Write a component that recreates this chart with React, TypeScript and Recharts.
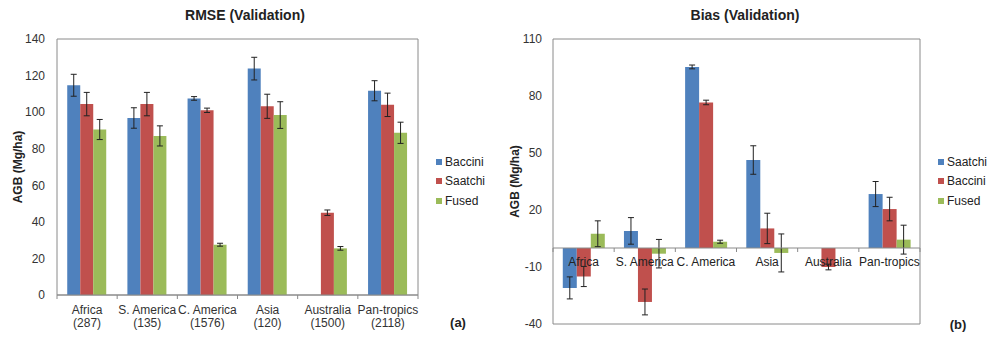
import React from 'react';
import {
  BarChart, Bar, XAxis, YAxis, ErrorBar, Legend, ReferenceArea, ReferenceLine,
} from 'recharts';

// categories
const regions = ['Africa', 'S. America', 'C. America', 'Asia', 'Australia', 'Pan-tropics'];
const sampleSizes = ['(287)', '(135)', '(1576)', '(120)', '(1500)', '(2118)'];

// RMSE (Validation)
const rmseBaccini = [114.7, 96.8, 107.5, 123.8, null, 111.7];
const rmseBacciniErr = [6, 5.6, 1, 6.2, null, 5.5];
const rmseSaatchi = [104.4, 104.4, 101, 103.2, 45, 104];
const rmseSaatchiErr = [6.4, 6.4, 1.2, 6.6, 1.5, 6.4];
const rmseFused = [90.5, 87, 27.5, 98.4, 25.5, 88.7];
const rmseFusedErr = [5.5, 5.5, 0.8, 7.3, 1, 5.8];
const rmseTicks = [0, 20, 40, 60, 80, 100, 120, 140];

// Bias (Validation)
const biasSaatchi = [-21, 9, 95.3, 46.3, null, 28.4];
const biasSaatchiErr = [5.8, 7, 1, 7.5, null, 6.6];
const biasBaccini = [-15, -28.4, 76.6, 10.3, -10, 20.5];
const biasBacciniErr = [5.3, 6.8, 1.2, 8, 1.5, 6.2];
const biasFused = [7.5, -3, 3.3, -2.6, 0, 4.4];
const biasFusedErr = [6.8, 7.5, 0.8, 10, 1, 7.6];
const biasTicks = [-40, -10, 20, 50, 80, 110];

const rmseOrder = ['Baccini', 'Saatchi', 'Fused'];
const biasOrder = ['Saatchi', 'Baccini', 'Fused'];

const BLUE = '#4F81BD';
const RED = '#C0504D';
const GREEN = '#9BBB59';
const FRAME = '#8a8a8a';
const TEXT = '#333';
const FONT = '"Liberation Sans", Arial, sans-serif';

const rmseData = regions.map((r, i) => ({
  region: r,
  baccini: rmseBaccini[i], bacciniErr: rmseBacciniErr[i],
  saatchi: rmseSaatchi[i], saatchiErr: rmseSaatchiErr[i],
  fused: rmseFused[i], fusedErr: rmseFusedErr[i],
}));

const biasData = regions.map((r, i) => ({
  region: r,
  saatchi: biasSaatchi[i], saatchiErr: biasSaatchiErr[i],
  baccini: biasBaccini[i], bacciniErr: biasBacciniErr[i],
  fused: biasFused[i], fusedErr: biasFusedErr[i],
}));

// left chart geometry
const L_W = 500, L_H = 337, L_AXIS_W = 57;
const L_MARGIN = { top: 39, right: 82, bottom: 12, left: 0 };
const L_PLOT_W = L_W - L_AXIS_W - L_MARGIN.right;

// right chart geometry
const R_W = 487, R_H = 337, R_AXIS_W = 53;
const R_X_AXIS_H = 1;
const R_MARGIN = { top: 39, right: 67, bottom: 12, left: 0 };
const R_PLOT_W = R_W - R_AXIS_W - R_MARGIN.right;
const R_PLOT_H = R_H - R_MARGIN.top - R_MARGIN.bottom - R_X_AXIS_H;
const B_MIN = biasTicks[0], B_MAX = biasTicks[biasTicks.length - 1];

const RmseTick = (props: any) => {
  const { x, y, payload, index } = props;
  const band = L_PLOT_W / regions.length;
  return (
    <g>
      <line x1={x - band / 2} x2={x - band / 2} y1={y} y2={y + 4} stroke={FRAME} />
      {index === regions.length - 1 && (
        <line x1={x + band / 2} x2={x + band / 2} y1={y} y2={y + 4} stroke={FRAME} />
      )}
      <text x={x} y={y + 19} textAnchor="middle" fontSize={12} fill={TEXT} fontFamily={FONT}>
        {payload.value}
      </text>
      <text x={x} y={y + 32} textAnchor="middle" fontSize={12} fill={TEXT} fontFamily={FONT}>
        {sampleSizes[index]}
      </text>
    </g>
  );
};

const BiasTick = (props: any) => {
  const { x, y, payload, index } = props;
  const band = R_PLOT_W / regions.length;
  const zeroY = y - (R_PLOT_H * (0 - B_MIN)) / (B_MAX - B_MIN);
  return (
    <g>
      <line x1={x - band / 2} x2={x - band / 2} y1={zeroY} y2={zeroY + 4} stroke={FRAME} />
      {index === regions.length - 1 && (
        <line x1={x + band / 2} x2={x + band / 2} y1={zeroY} y2={zeroY + 4} stroke={FRAME} />
      )}
      <text x={x} y={zeroY + 18} textAnchor="middle" fontSize={12} fill="#222" fontFamily={FONT}>
        {payload.value}
      </text>
    </g>
  );
};

const makeLegend = (order: string[]) => (props: any) => {
  const items = [...(props.payload || [])].sort(
    (a: any, b: any) => order.indexOf(a.value) - order.indexOf(b.value),
  );
  return (
    <div style={{ fontFamily: FONT, fontSize: 12, color: '#222' }}>
      {items.map((p: any) => (
        <div key={p.value} style={{ display: 'flex', alignItems: 'center', height: 19.5 }}>
          <span style={{ width: 6, height: 6, background: p.color, marginRight: 3, display: 'inline-block' }} />
          <span>{p.value}</span>
        </div>
      ))}
    </div>
  );
};

const errProps = { width: 3, stroke: '#222', strokeWidth: 1 };

const App: React.FC = () => {
  return (
    <div style={{ position: 'absolute', left: 0, top: 0, width: 987, height: 337, background: '#fff', fontFamily: FONT }}>
      <div style={{ position: 'absolute', left: 145, top: 7, width: 200, textAlign: 'center', fontWeight: 'bold', fontSize: 14, color: '#222' }}>
        RMSE (Validation)
      </div>
      <div style={{ position: 'absolute', left: 645, top: 7, width: 200, textAlign: 'center', fontWeight: 'bold', fontSize: 14, color: '#222' }}>
        Bias (Validation)
      </div>
      <div style={{ position: 'absolute', left: 438, top: 315, width: 40, textAlign: 'center', fontWeight: 'bold', fontSize: 13, color: '#222' }}>
        (a)
      </div>
      <div style={{ position: 'absolute', left: 938, top: 317, width: 40, textAlign: 'center', fontWeight: 'bold', fontSize: 13, color: '#222' }}>
        (b)
      </div>

      <div style={{ position: 'absolute', left: 0, top: 0 }}>
        <BarChart width={L_W} height={L_H} data={rmseData} margin={L_MARGIN} barCategoryGap="17%" barGap={0}>
          <ReferenceArea y1={0} y2={140} fill="none" stroke={FRAME} strokeWidth={1} />
          <XAxis dataKey="region" height={30} tickSize={0} tickMargin={0} axisLine={{ stroke: FRAME }} tick={<RmseTick />} interval={0} />
          <YAxis
            width={L_AXIS_W} domain={[0, 140]} ticks={rmseTicks} axisLine={false} tickLine={false}
            tickSize={0} tickMargin={12} tick={{ fontSize: 12, fill: TEXT, fontFamily: FONT }}
            label={{ value: 'AGB (Mg/ha)', angle: -90, position: 'insideLeft', offset: 18, style: { textAnchor: 'middle', fontWeight: 'bold', fontSize: 12, fill: '#222', fontFamily: FONT } }}
          />
          <Legend
            layout="horizontal" align="center" verticalAlign="middle" content={makeLegend(rmseOrder)}
            wrapperStyle={{ left: 436, top: 152, width: 70 }}
          />
          <Bar dataKey="baccini" name="Baccini" fill={BLUE} isAnimationActive={false}>
            <ErrorBar dataKey="bacciniErr" {...errProps} />
          </Bar>
          <Bar dataKey="saatchi" name="Saatchi" fill={RED} isAnimationActive={false}>
            <ErrorBar dataKey="saatchiErr" {...errProps} />
          </Bar>
          <Bar dataKey="fused" name="Fused" fill={GREEN} isAnimationActive={false}>
            <ErrorBar dataKey="fusedErr" {...errProps} />
          </Bar>
        </BarChart>
      </div>

      <div style={{ position: 'absolute', left: 500, top: 0 }}>
        <BarChart width={R_W} height={R_H} data={biasData} margin={R_MARGIN} barCategoryGap="16%" barGap={0}>
          <ReferenceArea y1={B_MIN} y2={B_MAX} fill="none" stroke={FRAME} strokeWidth={1} />
          <YAxis
            width={R_AXIS_W} domain={[B_MIN, B_MAX]} ticks={biasTicks} axisLine={false} tickLine={false}
            tickSize={0} tickMargin={11} tick={{ fontSize: 12, fill: TEXT, fontFamily: FONT }}
            label={{ value: 'AGB (Mg/ha)', angle: -90, position: 'insideLeft', offset: 15, style: { textAnchor: 'middle', fontWeight: 'bold', fontSize: 12, fill: '#222', fontFamily: FONT } }}
          />
          <Legend
            layout="horizontal" align="center" verticalAlign="middle" content={makeLegend(biasOrder)}
            wrapperStyle={{ left: 438, top: 152, width: 60 }}
          />
          <Bar dataKey="saatchi" name="Saatchi" fill={BLUE} isAnimationActive={false}>
            <ErrorBar dataKey="saatchiErr" {...errProps} />
          </Bar>
          <Bar dataKey="baccini" name="Baccini" fill={RED} isAnimationActive={false}>
            <ErrorBar dataKey="bacciniErr" {...errProps} />
          </Bar>
          <Bar dataKey="fused" name="Fused" fill={GREEN} isAnimationActive={false}>
            <ErrorBar dataKey="fusedErr" {...errProps} />
          </Bar>
          <ReferenceLine y={0} stroke={FRAME} zIndex={1100} />
          <XAxis
            dataKey="region" height={R_X_AXIS_H} tickSize={0} tickMargin={0} axisLine={false}
            tick={<BiasTick />} interval={0} zIndex={1200}
          />
        </BarChart>
      </div>
    </div>
  );
};

export default App;
